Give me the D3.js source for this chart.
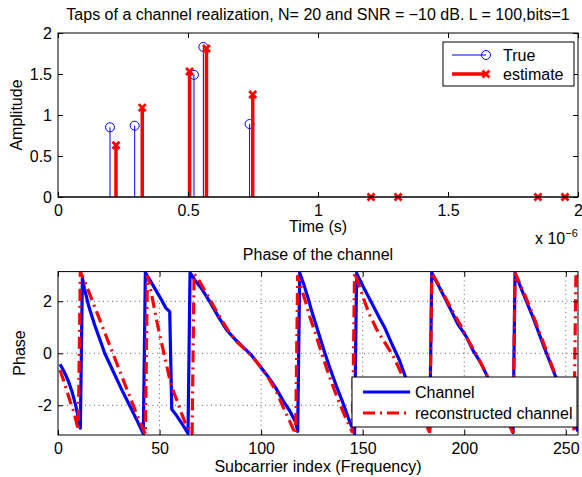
<!DOCTYPE html>
<html>
<head>
<meta charset="utf-8">
<script src="https://cdn.jsdelivr.net/npm/d3@7"></script>
<style>
  body { margin: 0; background: #fff; }
  svg text { font-family: "Liberation Sans", Arial, sans-serif; fill: #000; }
</style>
</head>
<body>
<svg id="chart" width="582" height="477"></svg>
<script>
// ---------------------------------------------------------------------------
// Data.
// Top panel: channel taps (time in units of 1e-6 s).
// ---------------------------------------------------------------------------
const trueTimes = [0.20, 0.295, 0.523, 0.559, 0.737];
const trueAmps  = [0.85, 0.87, 1.49, 1.83, 0.89];

const estTimes = [0.223, 0.324, 0.506, 0.571, 0.749, 1.204, 1.308, 1.846, 1.95];
const estAmps  = [0.63, 1.09, 1.53, 1.81, 1.25, 0, 0, 0, 0];

const tapXTicks = [0, 0.5, 1, 1.5, 2];
const tapYTicks = [0, 0.5, 1, 1.5, 2];

// Bottom panel: wrapped phase per subcarrier index.
const channelK = [
  1, 3, 5, 7, 9, 11, 12, 13, 15, 18, 21, 23, 26, 29, 32, 36, 39, 42,
  43, 45, 48, 51, 53, 55, 56, 58, 61, 64,
  65, 68, 71, 75, 79, 83, 87, 91, 95, 99, 103, 107, 111, 114, 117, 118,
  119, 121, 123, 125, 128, 131, 134, 137, 140, 143, 146,
  147, 150, 154, 158, 161, 165, 168, 171, 175, 179, 183,
  184, 188, 193, 197, 201, 204, 208, 211, 215, 219, 224,
  225, 229, 234, 239, 244, 248, 252, 256
];
const channelPhase = [
  -0.42, -0.7, -1.05, -1.5, -2.1, -2.88, 2.9, 2.5, 1.85, 1.1, 0.45, 0.0, -0.5, -1.0, -1.5, -2.12, -2.6, -3.1,
  3.1, 2.85, 2.45, 2.05, 1.75, 1.6, -2.15, -2.35, -2.7, -3.08,
  3.1, 2.75, 2.45, 1.95, 1.4, 0.9, 0.55, 0.25, -0.05, -0.45, -0.85, -1.3, -1.85, -2.2, -2.65, -3.0,
  3.1, 2.65, 2.15, 1.6, 0.85, 0.1, -0.6, -1.25, -1.85, -2.5, -3.1,
  3.08, 2.6, 2.0, 1.4, 0.96, 0.25, -0.25, -0.9, -1.55, -2.25, -2.95,
  3.1, 2.5, 1.73, 1.1, 0.64, 0.15, -0.35, -0.83, -1.5, -2.2, -3.05,
  3.08, 2.3, 1.35, 0.3, -0.7, -1.5, -2.3, -3.0
];

const reconK = [
  1, 3, 6, 8, 10,
  11, 14, 17, 20, 24, 27, 30, 33, 36, 39, 43,
  44, 45, 47, 49, 51, 53, 55, 57, 59, 61, 63, 65, 66,
  67, 69, 72, 76, 80, 84, 88, 92, 96, 100, 104, 108, 111, 114, 116, 117,
  118, 120, 122, 124, 127, 130, 133, 136, 139, 142, 145,
  146, 147, 150, 153, 157, 161, 165, 168, 172, 176, 180, 183,
  184, 188, 193, 198, 202, 206, 210, 214, 218, 222, 224,
  225, 229, 234, 239, 244, 248, 252, 254,
  255, 256
];
const reconPhase = [
  -0.64, -1.1, -1.85, -2.3, -2.95,
  3.14, 2.6, 2.0, 1.4, 0.6, 0.0, -0.6, -1.2, -1.8, -2.4, -3.1,
  3.0, 2.7, 1.9, 1.1, 0.4, -0.3, -1.0, -1.5, -1.9, -2.35, -2.75, -3.0, -3.1,
  3.05, 2.85, 2.45, 1.9, 1.35, 0.85, 0.45, 0.15, -0.15, -0.55, -1.0, -1.55, -2.1, -2.6, -2.95, -3.1,
  3.0, 2.45, 1.95, 1.4, 0.7, -0.05, -0.75, -1.4, -2.0, -2.55, -3.05,
  3.1, 2.88, 2.2, 1.55, 0.9, 0.4, -0.1, -0.6, -1.3, -1.9, -2.55, -3.05,
  3.1, 2.55, 1.8, 1.1, 0.5, -0.05, -0.65, -1.3, -2.0, -2.7, -3.05,
  3.1, 2.4, 1.45, 0.4, -0.65, -1.5, -2.4, -2.95,
  3.1, 2.9
];

const phaseXTicks = [0, 50, 100, 150, 200, 250];
const phaseYTicks = [-2, 0, 2];

// ---------------------------------------------------------------------------
const svg = d3.select("#chart");
const FS = 16;       // 12 pt everywhere, as in the MATLAB figure
const TICK = 5;

// Panel frames (pixel boxes of the two axes).
const topBox = { x0: 58, x1: 578, y0: 33, y1: 197 };
const botBox = { x0: 58, x1: 578, y0: 271.6, y1: 435 };

const xTap = d3.scaleLinear([0, 2], [topBox.x0, topBox.x1]);
const yTap = d3.scaleLinear([0, 2], [topBox.y1, topBox.y0]);

const xSub = d3.scaleLinear([0, 256], [botBox.x0, botBox.x1]);
const yPh = d3.scaleLinear([-Math.PI, Math.PI], [botBox.y1, botBox.y0]);

const fmt = d => (d < 0 ? "-" + Math.abs(d) : String(d));

// Draw MATLAB-style boxed axes: inward ticks on all four sides.
function drawAxes(box, x, y, xTicks, yTicks) {
  const g = svg.append("g");
  const styleAxis = sel => {
    sel.select(".domain").remove();
    sel.selectAll("line").attr("stroke", "#000");
    sel.selectAll("text").attr("font-size", FS).attr("font-family", null);
  };
  g.append("g").attr("transform", `translate(0,${box.y1})`)
    .call(d3.axisBottom(x).tickValues(xTicks).tickSize(-TICK).tickPadding(8).tickFormat(fmt))
    .call(styleAxis);
  g.append("g").attr("transform", `translate(0,${box.y0})`)
    .call(d3.axisTop(x).tickValues(xTicks).tickSize(-TICK).tickFormat(""))
    .call(styleAxis);
  g.append("g").attr("transform", `translate(${box.x0},0)`)
    .call(d3.axisLeft(y).tickValues(yTicks).tickSize(-TICK).tickPadding(6).tickFormat(fmt))
    .call(styleAxis);
  g.append("g").attr("transform", `translate(${box.x1},0)`)
    .call(d3.axisRight(y).tickValues(yTicks).tickSize(-TICK).tickFormat(""))
    .call(styleAxis);
  g.selectAll("text").attr("fill", "#000");
  svg.append("rect")
    .attr("x", box.x0).attr("y", box.y0)
    .attr("width", box.x1 - box.x0).attr("height", box.y1 - box.y0)
    .attr("fill", "none").attr("stroke", "#000").attr("stroke-width", 1);
}

// ---------------------------------------------------------------------------
// Top panel: stems
// ---------------------------------------------------------------------------
const taps = svg.append("g");
trueTimes.forEach((t, i) => {
  taps.append("line")
    .attr("x1", xTap(t)).attr("x2", xTap(t))
    .attr("y1", yTap(0)).attr("y2", yTap(trueAmps[i]))
    .attr("stroke", "#0000ff").attr("stroke-width", 1);
  taps.append("circle")
    .attr("cx", xTap(t)).attr("cy", yTap(trueAmps[i])).attr("r", 4.5)
    .attr("fill", "none").attr("stroke", "#0000ff").attr("stroke-width", 1);
});

function xMark(g, cx, cy, s) {
  g.append("path")
    .attr("d", `M${cx - s},${cy - s}L${cx + s},${cy + s}M${cx - s},${cy + s}L${cx + s},${cy - s}`)
    .attr("stroke", "#ff0000").attr("stroke-width", 2.8).attr("fill", "none");
}

estTimes.forEach((t, i) => {
  taps.append("line")
    .attr("x1", xTap(t)).attr("x2", xTap(t))
    .attr("y1", yTap(0)).attr("y2", yTap(estAmps[i]))
    .attr("stroke", "#ff0000").attr("stroke-width", 3.5);
  xMark(taps, xTap(t), yTap(estAmps[i]), 3.5);
});

// stem baseline
svg.append("line")
  .attr("x1", topBox.x0).attr("x2", topBox.x1)
  .attr("y1", yTap(0)).attr("y2", yTap(0))
  .attr("stroke", "#000");

drawAxes(topBox, xTap, yTap, tapXTicks, tapYTicks);

svg.append("text").attr("x", 318).attr("y", 19.5).attr("text-anchor", "middle")
  .attr("font-size", FS)
  .text("Taps of a channel realization, N= 20 and SNR = \u221210 dB. L = 100,bits=1");
svg.append("text").attr("transform", "translate(22,115) rotate(-90)")
  .attr("text-anchor", "middle").attr("font-size", FS).text("Amplitude");
svg.append("text").attr("x", 318).attr("y", 232).attr("text-anchor", "middle")
  .attr("font-size", FS).text("Time (s)");
const exp = svg.append("text").attr("x", 535).attr("y", 244).attr("font-size", FS);
exp.append("tspan").text("x 10");
exp.append("tspan").attr("dy", -7).attr("font-size", 11).text("\u22126");

// legend (top)
const lg1 = svg.append("g");
lg1.append("rect").attr("x", 443).attr("y", 42).attr("width", 131).attr("height", 44)
  .attr("fill", "#fff").attr("stroke", "#000");
lg1.append("line").attr("x1", 452).attr("x2", 486).attr("y1", 55).attr("y2", 55)
  .attr("stroke", "#0000ff").attr("stroke-width", 1);
lg1.append("circle").attr("cx", 486).attr("cy", 55).attr("r", 4.5)
  .attr("fill", "none").attr("stroke", "#0000ff");
lg1.append("line").attr("x1", 452).attr("x2", 486).attr("y1", 74).attr("y2", 74)
  .attr("stroke", "#ff0000").attr("stroke-width", 3.5);
xMark(lg1, 486, 74, 3.5);
lg1.append("text").attr("x", 503).attr("y", 60.5).attr("font-size", FS).text("True");
lg1.append("text").attr("x", 503).attr("y", 79.5).attr("font-size", FS).text("estimate");

// ---------------------------------------------------------------------------
// Bottom panel: phase
// ---------------------------------------------------------------------------
svg.append("defs").append("clipPath").attr("id", "clipPh")
  .append("rect").attr("x", botBox.x0).attr("y", botBox.y0)
  .attr("width", botBox.x1 - botBox.x0).attr("height", botBox.y1 - botBox.y0);

const grid = svg.append("g").attr("stroke", "#333").attr("stroke-width", 0.8)
  .attr("stroke-dasharray", "1,3.5");
phaseXTicks.filter(d => d > 0).forEach(d => {
  grid.append("line").attr("x1", xSub(d)).attr("x2", xSub(d))
    .attr("y1", botBox.y0).attr("y2", botBox.y1);
});
phaseYTicks.forEach(d => {
  grid.append("line").attr("x1", botBox.x0).attr("x2", botBox.x1)
    .attr("y1", yPh(d)).attr("y2", yPh(d));
});

const line = d3.line().x(d => xSub(d[0])).y(d => yPh(d[1]));
const chanPts = channelK.map((k, i) => [k, channelPhase[i]]);
const reconPts = reconK.map((k, i) => [k, reconPhase[i]]);

const plotG = svg.append("g").attr("clip-path", "url(#clipPh)");
plotG.append("path").attr("d", line(chanPts))
  .attr("fill", "none").attr("stroke", "#0000ff").attr("stroke-width", 3.2)
  .attr("stroke-linejoin", "round");
plotG.append("path").attr("d", line(reconPts))
  .attr("fill", "none").attr("stroke", "#ff0000").attr("stroke-width", 3.2)
  .attr("stroke-dasharray", "12,5,2,5");

drawAxes(botBox, xSub, yPh, phaseXTicks, phaseYTicks);

svg.append("text").attr("x", 318).attr("y", 260).attr("text-anchor", "middle")
  .attr("font-size", FS).text("Phase of the channel");
svg.append("text").attr("transform", "translate(25,353) rotate(-90)")
  .attr("text-anchor", "middle").attr("font-size", FS).text("Phase");
svg.append("text").attr("x", 318).attr("y", 472).attr("text-anchor", "middle")
  .attr("font-size", FS).text("Subcarrier index (Frequency)");

// legend (bottom)
const lg2 = svg.append("g");
lg2.append("rect").attr("x", 352).attr("y", 377).attr("width", 225).attr("height", 50)
  .attr("fill", "#fff").attr("stroke", "#000");
lg2.append("line").attr("x1", 363).attr("x2", 410).attr("y1", 392).attr("y2", 392)
  .attr("stroke", "#0000ff").attr("stroke-width", 3.2);
lg2.append("line").attr("x1", 363).attr("x2", 410).attr("y1", 413).attr("y2", 413)
  .attr("stroke", "#ff0000").attr("stroke-width", 3.2).attr("stroke-dasharray", "12,5,2,5");
lg2.append("text").attr("x", 415).attr("y", 398).attr("font-size", FS).text("Channel");
lg2.append("text").attr("x", 415).attr("y", 419).attr("font-size", FS).text("reconstructed channel");
</script>
</body>
</html>
